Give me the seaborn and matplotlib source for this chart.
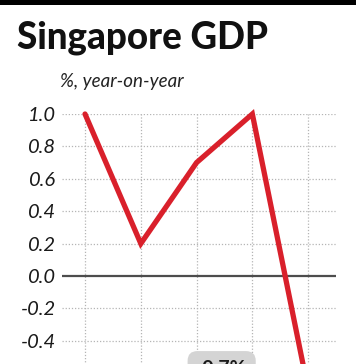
import numpy as np
import pandas as pd
import matplotlib
matplotlib.use("Agg")
import matplotlib.pyplot as plt
import seaborn as sns

# Datos (PIB Singapur, % interanual)
trimestres = ["T1 2019", "T2 2019", "T3 2019", "T4 2019", "T1 2020"]
crecimiento = [1.0, 0.2, 0.7, 1.0, -0.7]
y_ticks = [1.0, 0.8, 0.6, 0.4, 0.2, 0.0, -0.2, -0.4]
etiqueta = "-0.7%"

df = pd.DataFrame({"idx": np.arange(len(trimestres)), "gdp": crecimiento})

sns.set_theme(style="white")
plt.rcParams["font.family"] = ["Lato", "DejaVu Sans"]

W, H = 356, 364
fig = plt.figure(figsize=(W / 100, H / 100), dpi=100)

# eje colocado en pixeles (parte baja recortada como en la referencia)
x0, x1 = 61.6, 336.0
ytop, ybot = 114.0, 438.0
ax = fig.add_axes([x0 / W, (H - ybot) / H, (x1 - x0) / W, (ybot - ytop) / H])
ax.set_xlim(-0.42, 4.5)
ax.set_ylim(-1.0, 1.0)

# rejilla punteada
for v in [-0.6, -0.8] + y_ticks:
    if v != 0:
        ax.axhline(v, color="#b5b5b5", lw=0.9, ls=(0, (1, 1.5)), zorder=1)
for i in df["idx"]:
    ax.axvline(i, color="#b5b5b5", lw=0.9, ls=(0, (1, 1.5)), zorder=1)
ax.axhline(0, color="#4d4d4d", lw=1.6, zorder=2)

sns.lineplot(data=df, x="idx", y="gdp", ax=ax, color="#d9202b", lw=3.8,
             zorder=3, clip_on=False, solid_joinstyle="miter")

for s in ax.spines.values():
    s.set_visible(False)
ax.set_xticks([])
ax.set_yticks(y_ticks)
ax.set_yticklabels([f"{v:.1f}" for v in y_ticks], fontstyle="italic",
                   fontsize=14.5, color="#1a1a1a")
ax.tick_params(axis="y", length=0, pad=4)
ax.set_xlabel("")
ax.set_ylabel("")

ax.text(2.45, -0.57, etiqueta, ha="center", va="center", fontsize=14,
        fontweight="bold", color="#1a1a1a",
        bbox=dict(boxstyle="round,pad=0.45,rounding_size=0.5",
                  fc="#d4d4d4", ec="none"), zorder=4)

# titulo y subtitulo
fig.text(17 / W, 1 - 38 / H, "Singapore GDP", fontsize=26.5, fontweight="black",
         ha="left", va="center", color="#111111")
fig.text(60 / W, 1 - 81 / H, "%, year-on-year", fontsize=13.5,
         fontstyle="italic", ha="left", va="center", color="#222222")

# barra negra superior
fig.add_artist(plt.Rectangle((0, 1 - 5 / H), 1, 5 / H, transform=fig.transFigure,
                             color="black", lw=0))

fig.savefig("out.png", dpi=100)
